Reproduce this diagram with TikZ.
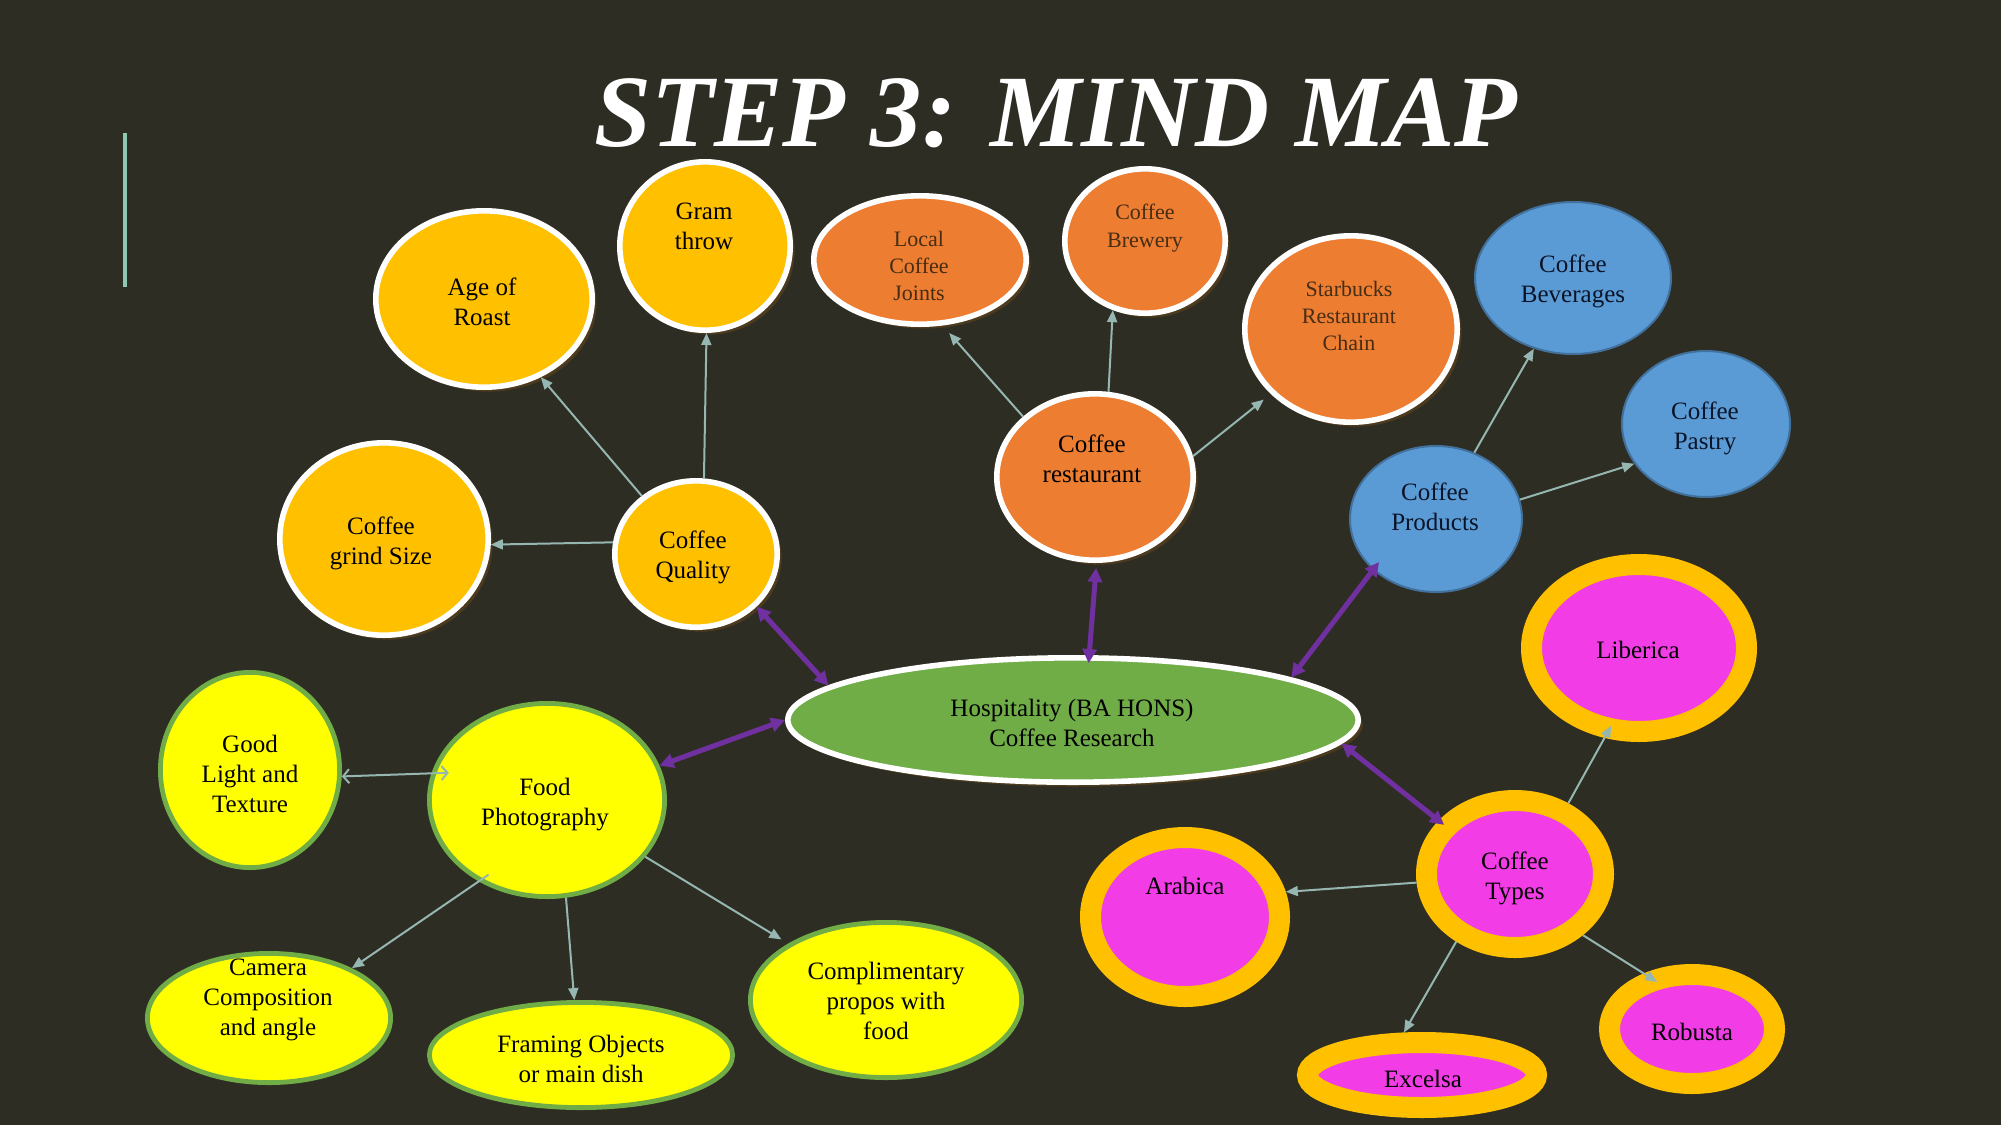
\documentclass[tikz,border=0pt]{standalone}
\usepackage{fontspec}
\setmainfont{Liberation Serif}
\usetikzlibrary{shapes.geometric,arrows.meta,shadows}
\definecolor{bg}{RGB}{46,45,35}
\definecolor{cgold}{RGB}{255,192,0}
\definecolor{corange}{RGB}{237,125,49}
\definecolor{cgreen}{RGB}{112,173,71}
\definecolor{cblue}{RGB}{91,155,213}
\definecolor{cblueb}{RGB}{65,113,156}
\definecolor{cyel}{RGB}{255,255,0}
\definecolor{cmag}{RGB}{242,60,230}
\definecolor{cpurple}{RGB}{112,48,160}
\definecolor{cline}{RGB}{150,182,178}
\definecolor{cbar}{RGB}{140,200,178}
\definecolor{cshadow}{RGB}{80,60,30}
\definecolor{ctbrown}{RGB}{70,45,20}
\definecolor{ctnavy}{RGB}{10,20,40}
\tikzset{
  shp/.style={ellipse, inner sep=0pt},
  wring/.style={shp, draw=white, line width=2.8pt, outer sep=1.4pt,
     drop shadow={shadow xshift=2.2pt, shadow yshift=-2.2pt, fill=cshadow, opacity=0.9}},
  goldnode/.style={wring, fill=cgold},
  orangenode/.style={wring, fill=corange},
  greennode/.style={wring, fill=cgreen},
  bluenode/.style={shp, fill=cblue, draw=cblueb, line width=1pt, outer sep=0.5pt},
  yelnode/.style={shp, fill=cyel, draw=cgreen, line width=2.4pt, outer sep=1.2pt},
  magnode/.style={shp, fill=cmag, draw=cgold, line width=10.5pt, outer sep=5.25pt},
  txt/.style={inner sep=0pt, align=center, yshift=-1pt, font=\fontsize{12.5}{15}\selectfont, text=black},
  smalltxt/.style={txt, font=\fontsize{11}{13.7}\selectfont, text=ctbrown},
  thinarr/.style={draw=cline, line width=1pt, -{Triangle[length=6pt,width=5pt]}},
  barbarr/.style={draw=cline, line width=1pt, {Straight Barb[length=3pt,width=7pt]}-{Straight Barb[length=3pt,width=7pt]}},
  parr/.style={draw=cpurple, line width=2.5pt, {Triangle[length=7pt,width=7pt]}-{Triangle[length=7pt,width=7pt]}}
}
\begin{document}
\begin{tikzpicture}[x=0.5pt,y=-0.5pt]
\fill[bg] (0,0) rectangle (2001,1125);
\useasboundingbox (0,0) rectangle (2001,1125);
\fill[cbar] (123,133) rectangle (127,287);
\node[anchor=base, text=white, inner sep=0pt, font=\fontsize{51.3}{60}\selectfont\bfseries\itshape] (title) at (1056,146) {STEP 3: MIND MAP};

% gold group
\node[goldnode, minimum width=108.2pt, minimum height=88.2pt] (age) at (484,299) {};
\node[goldnode, minimum width=85.2pt, minimum height=84.2pt] (gram) at (705,246) {};
\node[goldnode, minimum width=104.2pt, minimum height=96.2pt] (grind) at (384,539) {};
\node[goldnode, minimum width=81.2pt, minimum height=73.2pt] (cq) at (696,554) {};
% orange group
\node[orangenode, minimum width=106.2pt, minimum height=64.2pt] (local) at (920,260) {};
\node[orangenode, minimum width=80.2pt, minimum height=72.2pt] (brew) at (1145,241) {};
\node[orangenode, minimum width=106.2pt, minimum height=93.2pt] (star) at (1351,329) {};
\node[orangenode, minimum width=98.2pt, minimum height=83.2pt] (cr) at (1095,477) {};
% blue group
\node[bluenode, minimum width=98pt, minimum height=76pt] (bev) at (1573,278) {};
\node[bluenode, minimum width=84pt, minimum height=73pt] (pastry) at (1706,424) {};
\node[bluenode, minimum width=86pt, minimum height=73pt] (cp) at (1436,519) {};
% centre
\node[greennode, minimum width=285.2pt, minimum height=62.2pt] (hub) at (1073,720) {};
% yellow group
\node[yelnode, minimum width=89.6pt, minimum height=97.6pt] (light) at (250,770) {};
\node[yelnode, minimum width=117.6pt, minimum height=96.6pt] (fp) at (547,800) {};
\node[yelnode, minimum width=121.6pt, minimum height=64.6pt] (cam) at (269,1018) {};
\node[yelnode, minimum width=151.6pt, minimum height=52.6pt] (frame) at (581,1055) {};
\node[yelnode, minimum width=135.6pt, minimum height=77.6pt] (comp) at (886,1000) {};
% magenta group
\node[magnode, minimum width=107.5pt, minimum height=83.5pt] (lib) at (1639,648) {};
\node[magnode, minimum width=88.5pt, minimum height=73.5pt] (ct) at (1515,874) {};
\node[magnode, minimum width=94.5pt, minimum height=79.5pt] (arab) at (1185,917) {};
\node[magnode, minimum width=82.5pt, minimum height=54.5pt] (rob) at (1692,1029) {};
\node[magnode, minimum width=114.5pt, minimum height=32.5pt] (exc) at (1422,1075) {};

% thin connectors
\draw[thinarr] (cq.133) -- (age.-54);
\draw[thinarr] (cq.84) -- (gram.-89);
\draw[thinarr] (cq.172) -- (grind.-3);
\draw[thinarr, shorten >=5pt] (cr.140) -- (local.-71);
\draw[thinarr] (cr.81) -- (brew.-115);
\draw[thinarr, shorten >=4.5pt] (cr.12) -- (star.-141);
\draw[thinarr] (cp.60) -- (bev.-119);
\draw[thinarr] (cp.13) -- (pastry.-151);
\draw[barbarr, shorten >=-8.7pt] (light.-4) -- (fp.167);
\draw[thinarr, shorten <=-6pt] (fp.-130) -- (cam.31);
\draw[thinarr] (fp.-79) -- (frame.97);
\draw[thinarr, shorten >=4pt] (fp.-30) -- (comp.150);
\draw[thinarr, shorten >=-7pt] (ct.53) -- (lib.-111);
\draw[thinarr] (ct.185) -- (arab.14);
\draw[thinarr] (ct.-131) -- (exc.113);
\draw[thinarr, shorten >=-8pt] (ct.-42) -- (rob.131);

% purple connectors
\draw[parr] (cq.-41) -- (hub.172);
\draw[parr, shorten <=2.5pt, shorten >=-4pt] (cr.-89) -- (hub.76);
\draw[parr, shorten <=-5pt] (cp.-141) -- (hub.11);
\draw[parr, shorten >=-3.5pt] (hub.-5) -- (ct.145);
\draw[parr] (fp.17) -- (hub.180);

% texts
\node[txt] (age-t) at (482,300) {Age of\\Roast};
\node[txt] (gram-t) at (704,224) {Gram\\throw};
\node[txt] (grind-t) at (381,541) {Coffee\\grind Size};
\node[txt] (cq-t) at (693,555) {Coffee\\Quality};
\node[smalltxt] (local-t) at (919,264) {Local\\Coffee\\Joints};
\node[smalltxt] (brew-t) at (1145,226) {Coffee\\Brewery};
\node[smalltxt] (star-t) at (1349,314) {Starbucks\\Restaurant\\Chain};
\node[txt] (cr-t) at (1092,457) {Coffee\\restaurant};
\node[txt, text=ctnavy] (bev-t) at (1573,279) {Coffee\\Beverages};
\node[txt, text=ctnavy] (pastry-t) at (1705,426) {Coffee\\Pastry};
\node[txt, text=ctnavy] (cp-t) at (1435,505) {Coffee\\Products};
\node[txt] (hub-t) at (1072,721) {Hospitality (BA HONS)\\Coffee Research};
\node[txt] (lib-t) at (1638,648) {Liberica};
\node[txt] (ct-t) at (1515,876) {Coffee\\Types};
\node[txt] (arab-t) at (1185,884) {Arabica};
\node[txt] (rob-t) at (1692,1030) {Robusta};
\node[txt] (exc-t) at (1423,1077) {Excelsa};
\node[txt] (light-t) at (250,772) {Good\\Light and\\Texture};
\node[txt] (fp-t) at (545,803) {Food\\Photography};
\node[txt] (cam-t) at (268,998) {Camera\\Composition\\and angle};
\node[txt] (frame-t) at (581,1057) {Framing Objects\\or main dish};
\node[txt] (comp-t) at (886,999) {Complimentary\\propos with\\food};
\end{tikzpicture}
\end{document}
